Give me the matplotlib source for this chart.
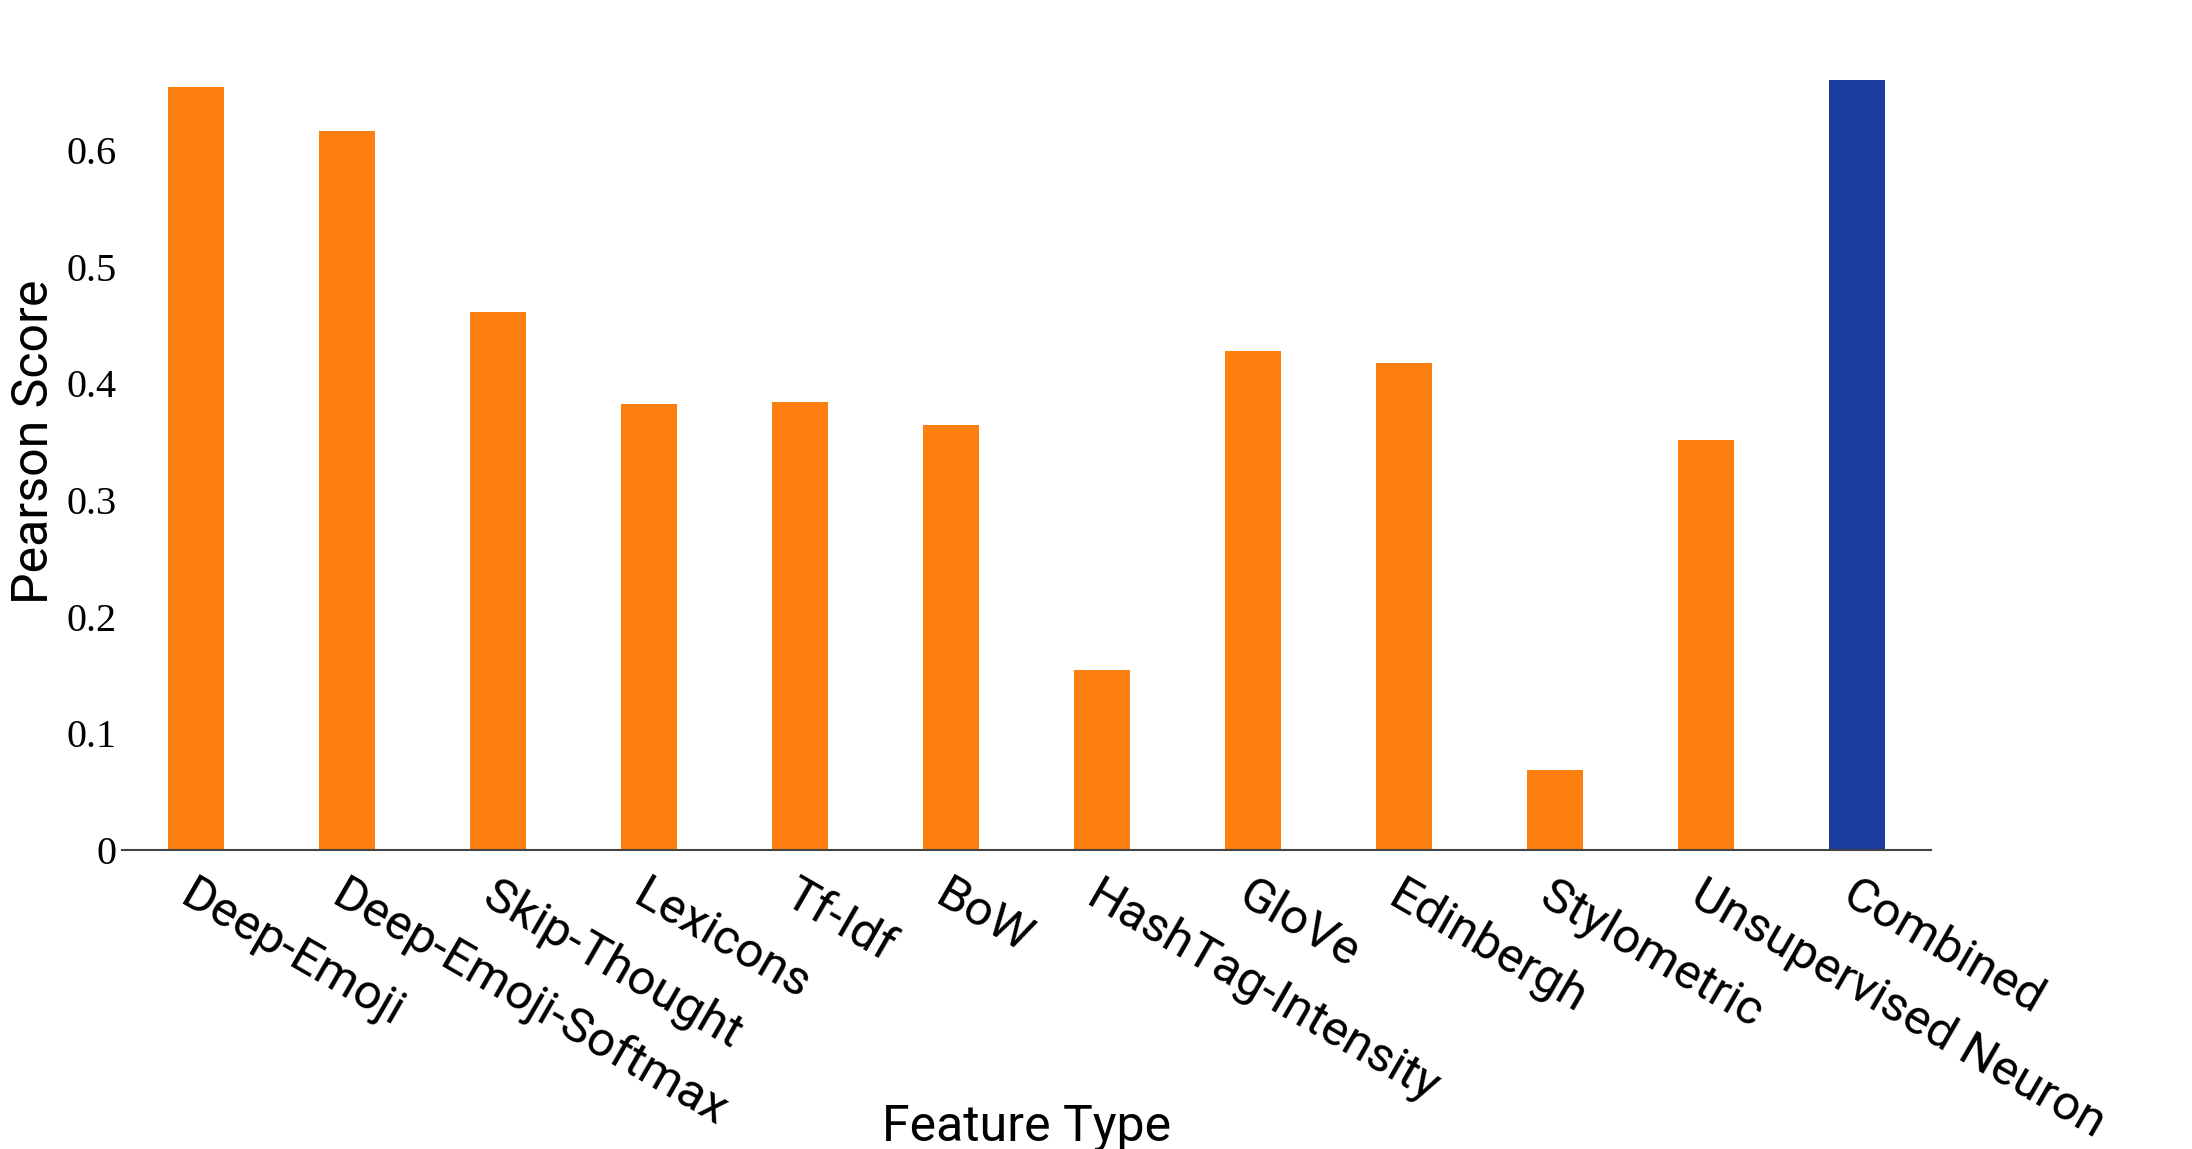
import matplotlib
matplotlib.use('Agg')
import matplotlib.pyplot as plt
import numpy as np

# feature types and pearson scores
features = ['Deep-Emoji', 'Deep-Emoji-Softmax', 'Skip-Thought', 'Lexicons', 'Tf-Idf', 'BoW',
            'HashTag-Intensity', 'GloVe', 'Edinbergh', 'Stylometric', 'Unsupervised Neuron', 'Combined']
scores = [0.654, 0.616, 0.461, 0.382, 0.384, 0.364, 0.154, 0.428, 0.417, 0.069, 0.351, 0.660]
y_ticks = [0, 0.1, 0.2, 0.3, 0.4, 0.5, 0.6]
y_tick_labels = ['0', '0.1', '0.2', '0.3', '0.4', '0.5', '0.6']

orange = '#fd7f10'
blue = '#1b3d9f'
colors = [orange] * (len(features) - 1) + [blue]

fig = plt.figure(figsize=(21.92, 11.49), dpi=100)
ax = fig.add_axes([0.0557, 0.2602, 0.8253, 0.711])

x = np.arange(len(features))
ax.bar(x, scores, width=0.37, color=colors)

ax.set_xlim(-0.49, len(features) - 0.51)
ax.set_ylim(0, 0.7)

# only the bottom line stays
for s in ['top', 'right', 'left']:
    ax.spines[s].set_visible(False)
ax.spines['bottom'].set_color('#444444')
ax.spines['bottom'].set_linewidth(1.5)

ax.set_yticks(y_ticks)
ax.set_yticklabels(y_tick_labels, fontsize=29, family='Liberation Serif')
ax.tick_params(axis='y', length=0, pad=4)

ax.set_xticks(x)
ax.set_xticklabels(features, fontsize=35.5, family='Roboto', rotation=-30,
                   rotation_mode='anchor', ha='left', va='top')
ax.tick_params(axis='x', length=0, pad=16)

ax.set_xlabel('Feature Type', fontsize=36, family='Roboto')
ax.xaxis.set_label_coords(0.5, -0.31)
ax.set_ylabel('Pearson Score', fontsize=36, family=['Liberation Sans Narrow', 'Roboto'])
ax.yaxis.set_label_coords(-0.0356, 0.5)

plt.savefig('out.png', dpi=100)
